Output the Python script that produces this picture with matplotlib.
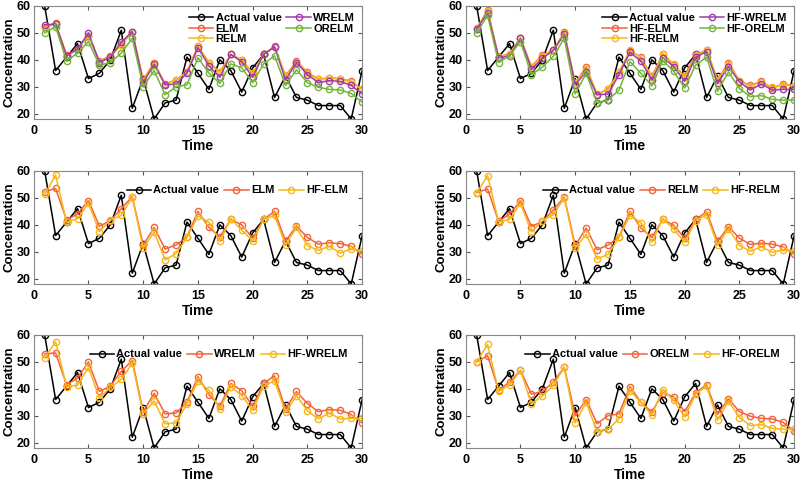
import numpy as np
import matplotlib.pyplot as plt

# ---- data ----
time = np.arange(1, 31)

actual = [60, 36, 41, 46, 33, 35, 40, 51, 22, 33, 18, 24, 25, 41, 35,
          29, 40, 36, 28, 37, 42, 26, 34, 26, 25, 23, 23, 23, 18, 36]

elm = [52.3, 53.5, 41.8, 44, 49, 39.5, 41.5, 46, 50.5, 32.5, 39, 31, 32.5, 35.5, 45,
       39, 35.5, 42, 40, 35, 42, 45, 34, 39.5, 35.3, 32.8, 33.3, 33, 32, 29]
hf_elm = [51.3, 58.5, 41, 42.3, 48, 37.5, 41.8, 43.5, 50.3, 31.3, 37.3, 27, 29.3, 35.3, 43.3,
          41, 33.8, 42.3, 38, 34, 42, 43.5, 32.5, 39, 32.2, 30.5, 32, 29.5, 31, 30.3]

relm = [52, 53.3, 41.3, 44, 48.8, 39.3, 41.3, 45.5, 50.3, 32.3, 38.8, 30.7, 32.5, 35.5, 45,
        38.8, 35.3, 42, 39.8, 35, 42, 44.8, 33.8, 39.3, 35, 32.7, 33.2, 32.8, 31.8, 29]
hf_relm = [51.8, 58.3, 41, 42, 48, 37.3, 41.5, 43.8, 50, 31.3, 36.5, 27.3, 29, 35.3, 43.5,
           40.8, 33.5, 42.3, 38.3, 33.5, 41.5, 43.8, 32.5, 38.5, 32.3, 30.2, 31.8, 29.8, 30.7, 30.3]

wrelm = [53, 53.3, 41.5, 44, 50, 39, 41, 46.5, 50.5, 31.5, 38.3, 30.7, 31, 35, 44.5,
         37.8, 33.5, 42, 39.3, 33.5, 42, 44.8, 32.5, 39, 34.5, 31.5, 32.3, 32, 30.5, 27.3]
hf_wrelm = [51.5, 57.5, 40.8, 41.3, 48, 36.5, 40.5, 43.5, 49.5, 30.8, 35.5, 27, 27.3, 34.5, 42.8,
            39.5, 32.5, 40.8, 37.5, 32, 41, 43, 31.3, 37.5, 31.8, 28.8, 31, 28.8, 29, 29]

orelm = [50, 52.3, 39.5, 42.5, 46.8, 38, 39, 42.5, 48, 30, 36, 27, 30, 30.7, 40.8,
         35, 31.3, 38.5, 37, 31.5, 38.5, 41.5, 30.5, 36.3, 31.5, 29.8, 29, 28.8, 27.5, 24.3]
hf_orelm = [50, 56.5, 39, 41.5, 46.8, 34.5, 37.3, 41.3, 48, 27.3, 35, 24, 25, 28.8, 39.3,
            35, 30.3, 39.7, 35.7, 29.5, 38, 41, 28.3, 35.5, 29.3, 26.3, 26.7, 25.3, 25, 25]

# ---- colours ----
c_red = '#F4623A'
c_yel = '#F7B718'
c_pur = '#A03CA8'
c_grn = '#72B53A'

plt.rcParams['font.family'] = ['Liberation Sans', 'DejaVu Sans']
plt.rcParams['font.weight'] = 'bold'

fig = plt.figure(figsize=(8.03, 4.83), dpi=100)

lefts = [0.042, 0.580]
bottoms = [0.7536, 0.412, 0.0725]
w, h = 0.409, 0.234

# each panel: list of (values, label, colour), ncol of legend
panels = [
    ([(actual, 'Actual value', 'black'), (elm, 'ELM', c_red), (relm, 'RELM', c_yel),
      (wrelm, 'WRELM', c_pur), (orelm, 'ORELM', c_grn)], 2),
    ([(actual, 'Actual value', 'black'), (hf_elm, 'HF-ELM', c_red), (hf_relm, 'HF-RELM', c_yel),
      (hf_wrelm, 'HF-WRELM', c_pur), (hf_orelm, 'HF-ORELM', c_grn)], 2),
    ([(actual, 'Actual value', 'black'), (elm, 'ELM', c_red), (hf_elm, 'HF-ELM', c_yel)], 3),
    ([(actual, 'Actual value', 'black'), (relm, 'RELM', c_red), (hf_relm, 'HF-RELM', c_yel)], 3),
    ([(actual, 'Actual value', 'black'), (wrelm, 'WRELM', c_red), (hf_wrelm, 'HF-WRELM', c_yel)], 3),
    ([(actual, 'Actual value', 'black'), (orelm, 'ORELM', c_red), (hf_orelm, 'HF-ORELM', c_yel)], 3),
]

for k, (series, ncol) in enumerate(panels):
    row, col = divmod(k, 2)
    ax = fig.add_axes([lefts[col], bottoms[row], w, h])
    for vals, lab, colr in series:
        ax.plot(time, vals, '-o', color=colr, lw=1.1, ms=4.5, mfc='none', mew=1.0, label=lab)
    ax.set_xlim(0, 30)
    ax.set_ylim(18, 60)
    ax.set_xticks(range(0, 31, 5))
    ax.set_yticks(range(20, 61, 10))
    ax.tick_params(direction='in', top=True, right=True, labelsize=9, length=3,
                   color='#555555', pad=2)
    ax.tick_params(axis='x', pad=4)
    for sp in ax.spines.values():
        sp.set_color('#888888')
        sp.set_linewidth(0.8)
    ax.set_xlabel('Time', fontsize=10, fontweight='bold', labelpad=2)
    ax.set_ylabel('Concentration', fontsize=9.5, fontweight='bold', labelpad=1)
    if ncol == 2:
        ax.legend(ncol=2, loc='upper right', frameon=False, fontsize=8, handlelength=2.2,
                  handletextpad=0.2, columnspacing=0.45, labelspacing=0.05,
                  borderaxespad=0.45, borderpad=0.2)
    else:
        ax.legend(ncol=3, loc='upper right', frameon=False, fontsize=8, handlelength=2.2,
                  handletextpad=0.2, columnspacing=0.45, borderaxespad=0.9)

fig.savefig('out.png', dpi=100)
